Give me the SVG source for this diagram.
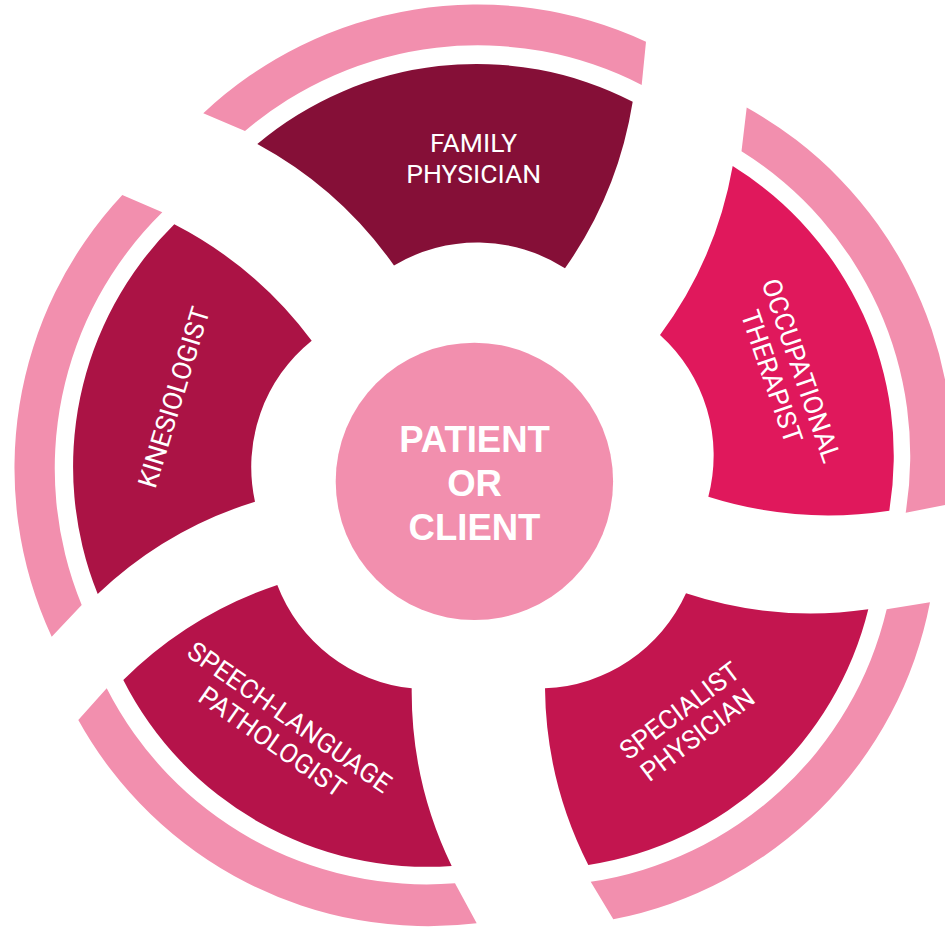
<svg xmlns="http://www.w3.org/2000/svg" width="945" height="928" viewBox="0 0 945 928">
<style>
.band{fill:#f28fae}
.lbl{font-family:Roboto,"Liberation Sans",Arial,sans-serif;font-size:26.5px;fill:#ffffff;text-anchor:middle}
.ctr{font-family:"Liberation Sans",Arial,sans-serif;font-weight:bold;font-size:36.5px;fill:#ffffff;text-anchor:middle}
</style>
<rect width="945" height="928" fill="#ffffff"/>
<g id="family-physician">
<path class="band" d="M203.3,113.3 A400,400 0 0 1 646,41.7 L641.7,85 A359,359 0 0 0 245,131 Z"/>
<path fill="#850f37" d="M257.3,144 A341,341 0 0 1 632.7,101.7 A400,400 0 0 1 565,268.3 A162,162 0 0 0 394,265.5 A400,400 0 0 0 257.3,144 Z"/>
<text class="lbl" x="473.7" y="152.3">FAMILY</text>
<text class="lbl" x="473.7" y="183.3">PHYSICIAN</text>
</g>
<g id="occupational-therapist">
<path class="band" d="M746.7,107.5 A400,400 0 0 1 949.9,504.1 L905.7,512.7 A359,359 0 0 0 741.5,151.3 Z"/>
<path fill="#e0185c" d="M732.7,166 A341,341 0 0 1 889.3,510.7 A400,400 0 0 1 708.3,496.7 A162,162 0 0 0 660,335 A400,400 0 0 0 732.7,166 Z"/>
<g transform="translate(787,375.5) rotate(71)">
<text class="lbl" x="0" y="-6">OCCUPATIONAL</text>
<text class="lbl" x="-4" y="24">THERAPIST</text>
</g>
</g>
<g id="specialist-physician">
<path class="band" d="M930,602.3 A400,400 0 0 1 613.3,919.3 L590.7,881.7 A359,359 0 0 0 886.7,609.3 Z"/>
<path fill="#c3154f" d="M868.3,609.3 A341,341 0 0 1 588.3,865 A400,400 0 0 1 545,688.3 A162,162 0 0 0 686,593.3 A400,400 0 0 0 868.3,609.3 Z"/>
<g transform="translate(688.7,722.8) rotate(-37)">
<text class="lbl" x="0" y="-6">SPECIALIST</text>
<text class="lbl" x="0" y="24">PHYSICIAN</text>
</g>
</g>
<g id="speech-language-pathologist">
<path class="band" d="M476.7,923.3 A400,400 0 0 1 78.3,720 L106.7,688.3 A359,359 0 0 0 455,883.3 Z"/>
<path fill="#b5134a" d="M451.7,866 A341,341 0 0 1 123.3,680 A400,400 0 0 1 277.3,585 A162,162 0 0 0 411.7,688.3 A400,400 0 0 0 451.7,866 Z"/>
<g transform="translate(280.8,729.6) rotate(35)">
<text class="lbl" x="0" y="-6">SPEECH-LANGUAGE</text>
<text class="lbl" x="0" y="24">PATHOLOGIST</text>
</g>
</g>
<g id="kinesiologist">
<path class="band" d="M51.7,636.7 A400,400 0 0 1 122.3,195 L162.3,212.3 A359,359 0 0 0 81.7,605 Z"/>
<path fill="#ab1345" d="M97.7,594 A341,341 0 0 1 174.3,224.3 A400,400 0 0 1 311.7,340.7 A162,162 0 0 0 255,501.7 A400,400 0 0 0 97.7,594 Z"/>
<g transform="translate(174,397.3) rotate(-73)">
<text class="lbl" x="0" y="9">KINESIOLOGIST</text>
</g>
</g>
<g id="patient-or-client">
<circle cx="474.4" cy="481.4" r="138.7" fill="#f28fae"/>
<text class="ctr" x="474.5" y="451.7">PATIENT</text>
<text class="ctr" x="474.5" y="495.7">OR</text>
<text class="ctr" x="474.5" y="540">CLIENT</text>
</g>
</svg>
